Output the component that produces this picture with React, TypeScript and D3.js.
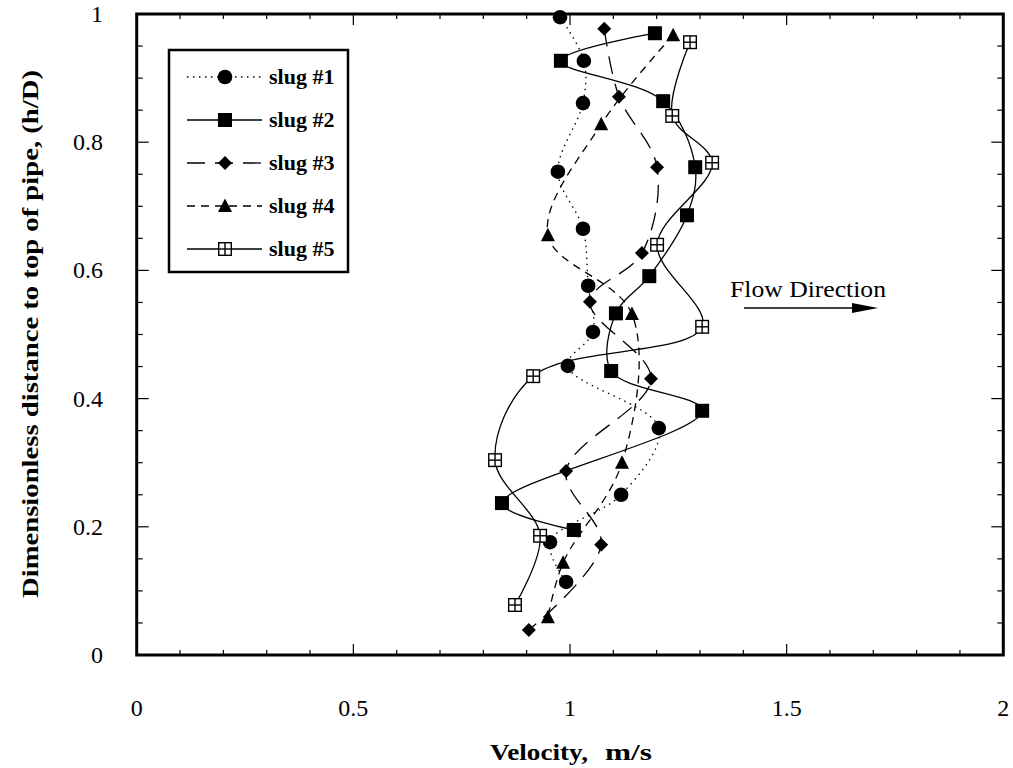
import React from "react";
import * as d3 from "d3";

// ---- data (velocity m/s, h/D) ----
const seriesNames = ["slug #1", "slug #2", "slug #3", "slug #4", "slug #5"];
const slug1V = [0.977, 1.032, 1.030, 0.972, 1.030, 1.042, 1.053, 0.995, 1.205, 1.118, 0.954, 0.991];
const slug1H = [0.995, 0.927, 0.861, 0.754, 0.665, 0.576, 0.504, 0.451, 0.354, 0.250, 0.176, 0.114];
const slug2V = [1.196, 0.979, 1.215, 1.289, 1.270, 1.183, 1.106, 1.095, 1.305, 0.843, 1.009];
const slug2H = [0.970, 0.927, 0.864, 0.761, 0.686, 0.591, 0.533, 0.443, 0.381, 0.237, 0.195];
const slug3V = [1.079, 1.113, 1.201, 1.166, 1.046, 1.187, 0.991, 1.072, 0.905];
const slug3H = [0.977, 0.871, 0.761, 0.627, 0.551, 0.431, 0.287, 0.172, 0.039];
const slug4V = [1.238, 1.072, 0.949, 1.143, 1.120, 0.984, 0.949];
const slug4H = [0.967, 0.828, 0.655, 0.532, 0.300, 0.144, 0.059];
const slug5V = [1.277, 1.236, 1.328, 1.201, 1.305, 0.915, 0.827, 0.931, 0.873];
const slug5H = [0.956, 0.841, 0.768, 0.640, 0.512, 0.435, 0.304, 0.186, 0.078];

const xTickLabels = ["0", "0.5", "1", "1.5", "2"];
const yTickLabels = ["0", "0.2", "0.4", "0.6", "0.8", "1"];

const FONT = "'Liberation Serif', 'Times New Roman', Times, serif";

const left = 136.7, right = 1003.3, top = 14, bottom = 655;
const x = d3.scaleLinear().domain([0, 2]).range([left, right]);
const y = d3.scaleLinear().domain([0, 1]).range([bottom, top]);

const styles = [
  { dash: "1.5,4.5", marker: "circle" },
  { dash: "none", marker: "square" },
  { dash: "18,10", marker: "diamond" },
  { dash: "8,6", marker: "triangle" },
  { dash: "none", marker: "crossSquare" },
];

const series = [
  { v: slug1V, h: slug1H },
  { v: slug2V, h: slug2H },
  { v: slug3V, h: slug3H },
  { v: slug4V, h: slug4H },
  { v: slug5V, h: slug5H },
];

function Marker({ type, cx, cy }: { type: string; cx: number; cy: number }) {
  if (type === "circle") return <circle cx={cx} cy={cy} r={7.3} fill="#000" />;
  if (type === "square") return <rect x={cx - 7} y={cy - 7} width={14} height={14} fill="#000" />;
  if (type === "diamond")
    return <path d={`M${cx},${cy - 7}L${cx + 7},${cy}L${cx},${cy + 7}L${cx - 7},${cy}Z`} fill="#000" />;
  if (type === "triangle")
    return <path d={`M${cx},${cy - 7.5}L${cx + 7},${cy + 6}L${cx - 7},${cy + 6}Z`} fill="#000" />;
  return (
    <g>
      <rect x={cx - 6.3} y={cy - 6.3} width={12.6} height={12.6} fill="#fff" stroke="#000" strokeWidth={1.4} />
      <line x1={cx} x2={cx} y1={cy - 6.3} y2={cy + 6.3} stroke="#000" strokeWidth={1.4} />
      <line x1={cx - 6.3} x2={cx + 6.3} y1={cy} y2={cy} stroke="#000" strokeWidth={1.4} />
    </g>
  );
}

export default function App() {
  const line = d3
    .line<[number, number]>()
    .x((d) => x(d[0]))
    .y((d) => y(d[1]))
    .curve(d3.curveCatmullRom.alpha(0.5));

  const xMinor = d3.range(0, 2.0001, 0.1).map((v) => +v.toFixed(2));
  const yMinor = d3.range(0, 1.0001, 0.05).map((v) => +v.toFixed(2));
  const isMajorX = (v: number) => Math.abs(v * 2 - Math.round(v * 2)) < 1e-6;
  const isMajorY = (v: number) => Math.abs(v * 5 - Math.round(v * 5)) < 1e-6;

  const legendY = [77, 120, 163, 206, 249];

  return (
    <svg width={1013} height={768} style={{ display: "block", position: "absolute", left: 0, top: 0 }}>
      <rect x={0} y={0} width={1013} height={768} fill="#fff" />
      {/* series lines */}
      {series.map((s, i) => (
        <path
          key={"l" + i}
          d={line(s.v.map((v, j) => [v, s.h[j]] as [number, number])) || ""}
          fill="none"
          stroke="#000"
          strokeWidth={1.3}
          strokeDasharray={styles[i].dash}
        />
      ))}
      {/* markers */}
      {series.map((s, i) =>
        s.v.map((v, j) => <Marker key={`m${i}-${j}`} type={styles[i].marker} cx={x(v)} cy={y(s.h[j])} />)
      )}
      {/* ticks */}
      {xMinor.map((v) => {
        const len = isMajorX(v) ? 11 : 5;
        return (
          <g key={"xt" + v}>
            <line x1={x(v)} x2={x(v)} y1={bottom} y2={bottom - len} stroke="#000" strokeWidth={1.2} />
            <line x1={x(v)} x2={x(v)} y1={top} y2={top + len} stroke="#000" strokeWidth={1.2} />
          </g>
        );
      })}
      {yMinor.map((v) => {
        const len = isMajorY(v) ? 12 : 6;
        return (
          <g key={"yt" + v}>
            <line x1={left} x2={left + len} y1={y(v)} y2={y(v)} stroke="#000" strokeWidth={1.2} />
            <line x1={right} x2={right - len} y1={y(v)} y2={y(v)} stroke="#000" strokeWidth={1.2} />
          </g>
        );
      })}
      {/* frame */}
      <rect x={left} y={top} width={right - left} height={bottom - top} fill="none" stroke="#000" strokeWidth={3} />
      {/* tick labels */}
      {xTickLabels.map((t) => (
        <text key={"xl" + t} x={x(+t)} y={716} textAnchor="middle" fontFamily={FONT} fontSize={24}>
          {t}
        </text>
      ))}
      {yTickLabels.map((t) => (
        <text key={"yl" + t} x={103} y={y(+t) + 8} textAnchor="end" fontFamily={FONT} fontSize={24}>
          {t}
        </text>
      ))}
      {/* axis titles */}
      <text x={490} y={760} fontFamily={FONT} fontSize={23} fontWeight="bold" textLength={98} lengthAdjust="spacingAndGlyphs">
        Velocity,
      </text>
      <text x={605} y={760} fontFamily={FONT} fontSize={23} fontWeight="bold" textLength={47} lengthAdjust="spacingAndGlyphs">
        m/s
      </text>
      <text
        transform="translate(38,598) rotate(-90)"
        x={0}
        y={0}
        fontFamily={FONT}
        fontSize={24}
        fontWeight="bold"
        textLength={528}
        lengthAdjust="spacingAndGlyphs"
      >
        Dimensionless distance to top of pipe, (h/D)
      </text>
      {/* legend */}
      <rect x={169} y={50} width={179} height={222} fill="#fff" stroke="#000" strokeWidth={2.5} />
      {seriesNames.map((n, i) => (
        <g key={"lg" + i}>
          <line x1={187} x2={262} y1={legendY[i]} y2={legendY[i]} stroke="#000" strokeWidth={1.3} strokeDasharray={styles[i].dash} />
          <Marker type={styles[i].marker} cx={225} cy={legendY[i]} />
          <text x={269} y={legendY[i] + 7} fontFamily={FONT} fontSize={22} fontWeight="bold">
            {n}
          </text>
        </g>
      ))}
      {/* flow direction annotation */}
      <text x={730} y={297} fontFamily={FONT} fontSize={23} textLength={156} lengthAdjust="spacingAndGlyphs">
        Flow Direction
      </text>
      <line x1={744} x2={856} y1={308} y2={308} stroke="#000" strokeWidth={1.5} />
      <path d="M852,303 L878,308 L852,313 Z" fill="#000" />
    </svg>
  );
}
